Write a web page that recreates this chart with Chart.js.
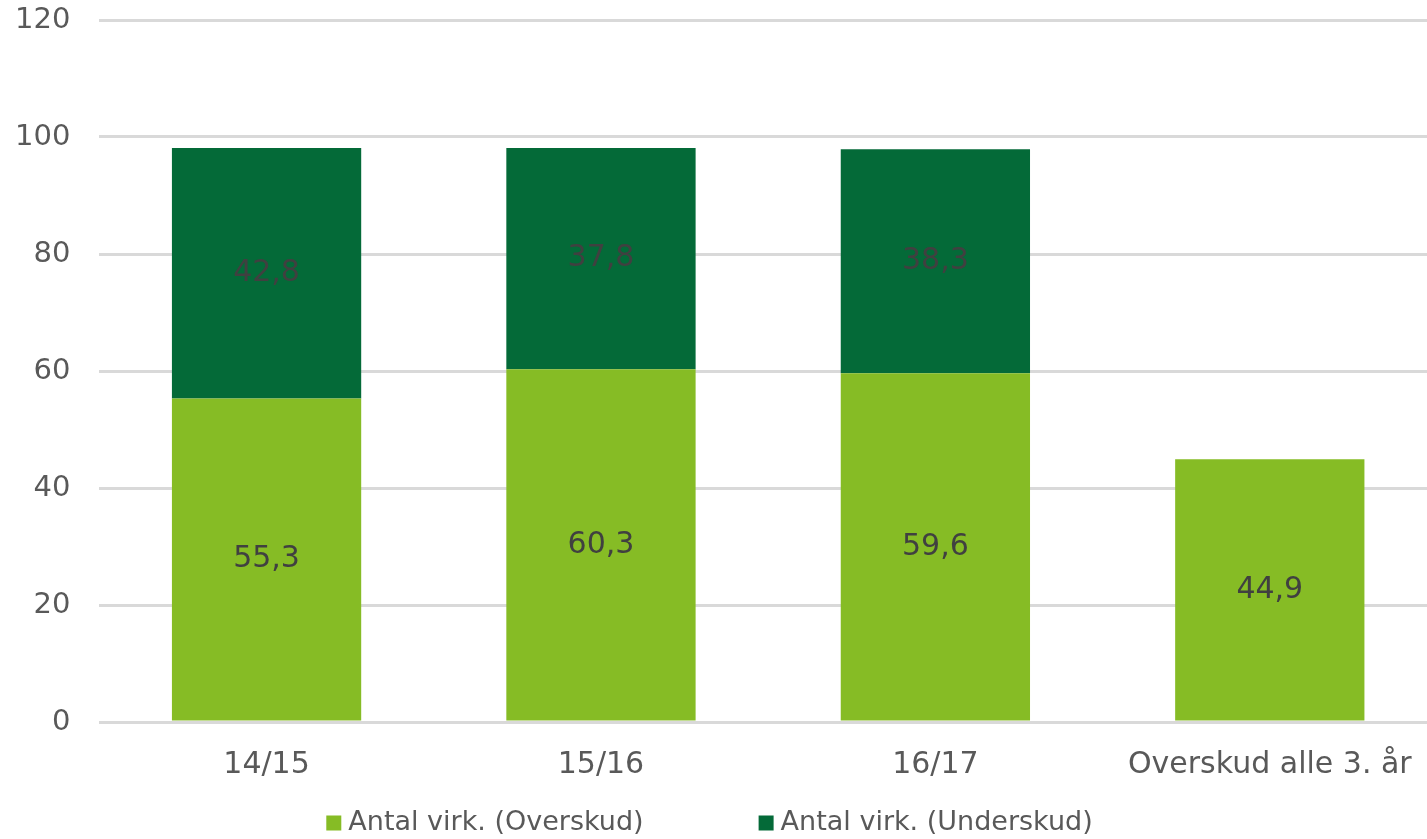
<!DOCTYPE html>
<html>
<head>
<meta charset="utf-8">
<script src="https://cdn.jsdelivr.net/npm/chart.js@4/dist/chart.umd.min.js"></script>
<style>
  html, body { margin: 0; padding: 0; background: #fff; overflow: hidden; }
  #wrap { width: 1437px; height: 839px; }
</style>
</head>
<body>
<div id="wrap"><canvas id="chart"></canvas></div>
<script>
// data
const categories = ["14/15", "15/16", "16/17", "Overskud alle 3. år"];
const overskud = [55.3, 60.3, 59.6, 44.9];
const underskud = [42.8, 37.8, 38.3, null];
const yTicks = [0, 20, 40, 60, 80, 100, 120];

const textGrey = '#595959';
const fontFamily = '"DejaVu Sans", Verdana, sans-serif';

// draws the value in the middle of each bar segment
const segmentLabels = {
    id: 'segmentLabels',
    afterDatasetsDraw(chart) {
        const ctx = chart.ctx;
        ctx.save();
        ctx.font = '30px ' + fontFamily;
        ctx.fillStyle = '#404040';
        ctx.textAlign = 'center';
        ctx.textBaseline = 'middle';
        chart.data.datasets.forEach((ds, i) => {
            const meta = chart.getDatasetMeta(i);
            meta.data.forEach((bar, j) => {
                const v = ds.data[j];
                if (v == null) return;
                const y = (bar.y + bar.base) / 2;
                ctx.fillText(v.toFixed(1).replace('.', ','), bar.x, y);
            });
        });
        ctx.restore();
    }
};

// legend like the excel one: small squares, wide gap between the items
const bottomLegend = {
    id: 'bottomLegend',
    afterDraw(chart) {
        const ctx = chart.ctx;
        const box = 15, gapText = 7, gapItem = 115;
        ctx.save();
        ctx.font = '27px ' + fontFamily;
        ctx.textBaseline = 'middle';
        const items = chart.data.datasets.map(ds => ({
            text: ds.label,
            color: ds.backgroundColor,
            w: box + gapText + ctx.measureText(ds.label).width
        }));
        const total = items.reduce((s, it) => s + it.w, 0) + gapItem * (items.length - 1);
        let x = chart.width / 2 - 9 - total / 2;
        const y = chart.height - 16;
        items.forEach(it => {
            ctx.fillStyle = it.color;
            ctx.fillRect(x, y - box / 2, box, box);
            ctx.fillStyle = textGrey;
            ctx.fillText(it.text, x + box + gapText, y);
            x += it.w + gapItem;
        });
        ctx.restore();
    }
};

new Chart(document.getElementById('chart'), {
    type: 'bar',
    data: {
        labels: categories,
        datasets: [{
            label: 'Antal virk. (Overskud)',
            data: overskud,
            backgroundColor: '#86BC25'
        }, {
            label: 'Antal virk. (Underskud)',
            data: underskud,
            backgroundColor: '#046A38'
        }]
    },
    options: {
        responsive: true,
        maintainAspectRatio: false,
        animation: false,
        datasets: {
            bar: { barPercentage: 0.566, categoryPercentage: 1 }
        },
        layout: {
            padding: { left: 15, right: 0, top: 20, bottom: 31 }
        },
        scales: {
            x: {
                stacked: true,
                grid: { display: false, drawTicks: false },
                border: { display: false },
                ticks: {
                    color: textGrey,
                    font: { family: fontFamily, size: 30 },
                    padding: 25,
                    maxRotation: 0
                }
            },
            y: {
                stacked: true,
                min: 0,
                max: 120,
                afterBuildTicks(axis) {
                    axis.ticks = yTicks.map(v => ({ value: v }));
                },
                grid: {
                    color: '#D9D9D9',
                    lineWidth: 3,
                    drawTicks: true,
                    tickLength: 29,
                    tickColor: 'rgba(0,0,0,0)'
                },
                border: { display: false },
                ticks: {
                    color: textGrey,
                    font: { family: fontFamily, size: 29 },
                    padding: 0
                }
            }
        },
        plugins: {
            legend: { display: false },
            tooltip: { enabled: false }
        }
    },
    plugins: [segmentLabels, bottomLegend]
});
</script>
</body>
</html>
